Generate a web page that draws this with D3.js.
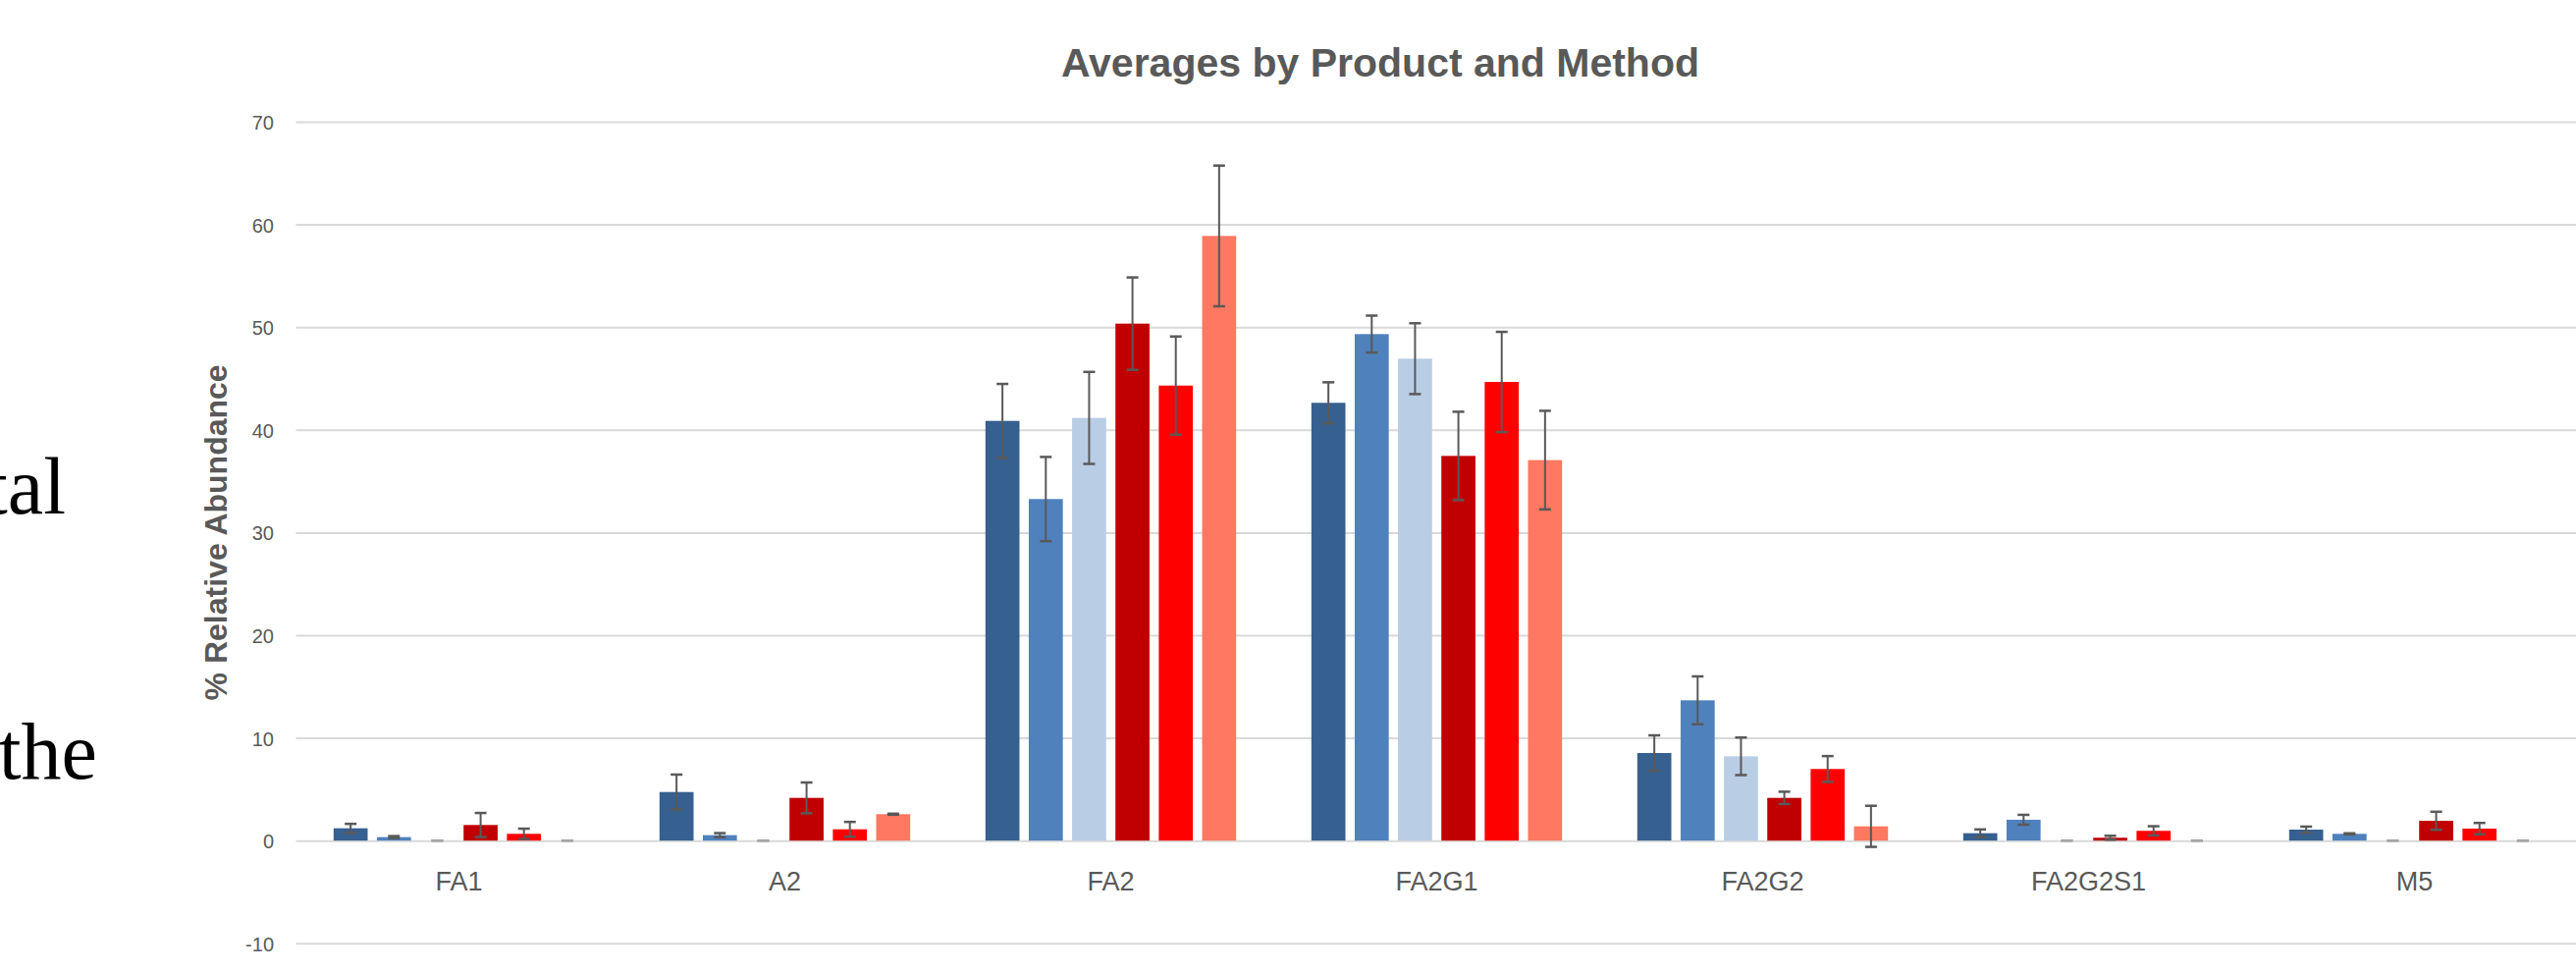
<!DOCTYPE html>
<html>
<head>
<meta charset="utf-8">
<script src="https://cdn.jsdelivr.net/npm/d3@7"></script>
<style>
  html, body { margin: 0; padding: 0; background: #ffffff; }
  svg { display: block; }
</style>
</head>
<body>
<script>
// ---------------- DATA ----------------
const categories = ["FA1", "A2", "FA2", "FA2G1", "FA2G2", "FA2G2S1", "M5"];
const seriesNames = ["Series 1", "Series 2", "Series 3", "Series 4", "Series 5", "Series 6"];
const yTickValues = [-10, 0, 10, 20, 30, 40, 50, 60, 70];
const yTickLabels = ["-10", "0", "10", "20", "30", "40", "50", "60", "70"];

const series1 = [1.20, 4.73, 40.87, 42.63, 8.53, 0.72, 1.07];
const series2 = [0.34, 0.53, 33.26, 49.32, 13.66, 2.03, 0.66];
const series3 = [0.00, 0.00, 41.16, 46.93, 8.21, 0.00, 0.00];
const series4 = [1.52, 4.16, 50.34, 37.46, 4.16, 0.28, 1.93];
const series5 = [0.66, 1.10, 44.31, 44.66, 6.97, 0.95, 1.17];
const series6 = [0.00, 2.57, 58.88, 37.05, 1.39, 0.00, 0.00];

const error1 = [0.43, 1.70, 3.60, 2.00, 1.72, 0.37, 0.29];
const error2 = [0.10, 0.20, 4.10, 1.80, 2.33, 0.48, 0.05];
const error3 = [0.00, 0.00, 4.48, 3.45, 1.83, 0.00, 0.00];
const error4 = [1.17, 1.50, 4.50, 4.30, 0.60, 0.19, 0.88];
const error5 = [0.50, 0.72, 4.78, 4.88, 1.26, 0.45, 0.55];
const error6 = [0.00, 0.05, 6.85, 4.80, 2.00, 0.00, 0.00];

const titleText = "Averages by Product and Method";
const yAxisTitle = "% Relative Abundance";
const backgroundWords = ["tal", "the"];

// ---------------- STYLE / LAYOUT ----------------
const W = 2624, H = 988;
const colors = ["#36608F", "#4F81BD", "#B9CDE5", "#C00000", "#FF0000", "#FF7861"];
const valuesBySeries = [series1, series2, series3, series4, series5, series6];
const errorsBySeries = [error1, error2, error3, error4, error5, error6];
const FONT = "'Liberation Sans', Arial, sans-serif";
const GREY = "#595959";

const plotLeft = 301.5, plotRight = 2625.5;
const yTop = 124.0, yBottom = 960.8;

const svg = d3.select("body").append("svg")
  .attr("width", W).attr("height", H)
  .attr("viewBox", `0 0 ${W} ${H}`);

svg.append("rect").attr("width", W).attr("height", H).attr("fill", "#ffffff");

// background slide words (cut by the left edge, as in the reference)
svg.append("text")
  .attr("x", 67).attr("y", 523)
  .attr("text-anchor", "end")
  .attr("font-family", "'Liberation Serif', 'DejaVu Serif', serif")
  .attr("font-size", 82)
  .attr("fill", "#000000")
  .text(backgroundWords[0]);
svg.append("text")
  .attr("x", 99).attr("y", 793)
  .attr("text-anchor", "end")
  .attr("font-family", "'Liberation Serif', 'DejaVu Serif', serif")
  .attr("font-size", 82)
  .attr("fill", "#000000")
  .text(backgroundWords[1]);

// scales
const y = d3.scaleLinear().domain([-10, 70]).range([yBottom, yTop]);
const x0 = d3.scaleBand().domain(categories).range([plotLeft, plotRight]).paddingInner(0).paddingOuter(0);
const groupPad = 38.3;
const x1 = d3.scaleBand().domain(seriesNames)
  .range([groupPad, x0.bandwidth() - groupPad])
  .paddingInner(0.214).paddingOuter(0);

// gridlines
const grid = svg.append("g")
  .attr("transform", `translate(${plotLeft},0)`)
  .call(d3.axisLeft(y).tickValues(yTickValues).tickSize(-(W - plotLeft)).tickFormat(""));
grid.select(".domain").remove();
grid.selectAll(".tick line").attr("stroke", "#D9D9D9").attr("stroke-width", 2);

// y tick labels
const yAxis = svg.append("g")
  .attr("transform", `translate(${plotLeft},1)`)
  .call(d3.axisLeft(y).tickValues(yTickValues).tickSize(0).tickPadding(22.5)
    .tickFormat((d, i) => yTickLabels[i]));
yAxis.select(".domain").remove();
yAxis.selectAll("text")
  .attr("font-family", FONT).attr("font-size", 20).attr("fill", GREY);

// bars
const flat = [];
categories.forEach((c, ci) => {
  seriesNames.forEach((s, si) => {
    flat.push({ cat: c, ser: s, si: si, v: valuesBySeries[si][ci], e: errorsBySeries[si][ci] });
  });
});

const barsG = svg.append("g");
barsG.selectAll("rect.bar").data(flat).join("rect")
  .attr("class", "bar")
  .attr("x", d => x0(d.cat) + x1(d.ser))
  .attr("width", x1.bandwidth())
  .attr("y", d => y(Math.max(0, d.v)))
  .attr("height", d => Math.abs(y(d.v) - y(0)))
  .attr("fill", d => colors[d.si]);

// error bars
const capW = 12;
const cx = d => x0(d.cat) + x1(d.ser) + x1.bandwidth() / 2;
const errG = svg.append("g").attr("stroke", GREY).attr("stroke-width", 2).attr("fill", "none");
const eb = errG.selectAll("g.eb").data(flat).join("g").attr("class", "eb")
  .attr("stroke", d => d.e === 0 ? "#A6A6A6" : GREY);
eb.append("line")
  .attr("x1", cx).attr("x2", cx)
  .attr("y1", d => y(d.v + d.e))
  .attr("y2", d => y(d.v - d.e));
eb.append("line")
  .attr("x1", d => cx(d) - capW / 2).attr("x2", d => cx(d) + capW / 2)
  .attr("y1", d => y(d.v + d.e)).attr("y2", d => y(d.v + d.e))
  .attr("stroke-width", 2.5);
eb.append("line")
  .attr("x1", d => cx(d) - capW / 2).attr("x2", d => cx(d) + capW / 2)
  .attr("y1", d => y(d.v - d.e)).attr("y2", d => y(d.v - d.e))
  .attr("stroke-width", 2.5);

// category labels
const xAxis = svg.append("g")
  .attr("transform", `translate(0,${y(0)})`)
  .call(d3.axisBottom(x0).tickSize(0).tickPadding(31.5));
xAxis.select(".domain").remove();
xAxis.selectAll("text")
  .attr("font-family", FONT).attr("font-size", 27).attr("fill", GREY);

// title
svg.append("text")
  .attr("x", 1406).attr("y", 78)
  .attr("text-anchor", "middle")
  .attr("font-family", FONT).attr("font-weight", "bold")
  .attr("font-size", 41).attr("fill", GREY)
  .text(titleText);

// y axis title
svg.append("text")
  .attr("transform", `translate(231,${(yTop + yBottom) / 2}) rotate(-90)`)
  .attr("text-anchor", "middle")
  .attr("font-family", FONT).attr("font-weight", "bold")
  .attr("font-size", 32).attr("fill", GREY)
  .text(yAxisTitle);
</script>
</body>
</html>
